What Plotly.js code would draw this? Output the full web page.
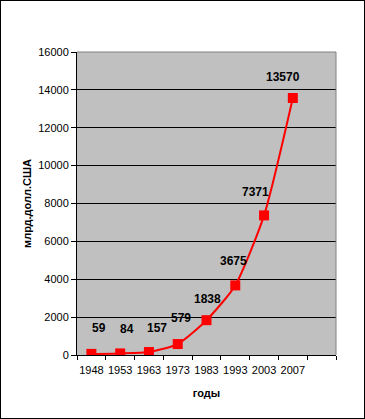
<!DOCTYPE html>
<html>
<head>
<meta charset="utf-8">
<script src="https://cdn.plot.ly/plotly-3.0.1.min.js"></script>
<style>
html,body{margin:0;padding:0;background:#fff;}
#chart{width:363px;height:417px;border:1px solid #000;}
</style>
</head>
<body>
<div id="chart"></div>
<script>
// Data
var years = ["1948", "1953", "1963", "1973", "1983", "1993", "2003", "2007"];
var values = [59, 84, 157, 579, 1838, 3675, 7371, 13570];
var yTicks = [0, 2000, 4000, 6000, 8000, 10000, 12000, 14000, 16000];

var idx = years.map(function(_, i){ return i; });
var nSlots = years.length + 1;
var bounds = [];
for (var b = 0; b <= nSlots; b++) bounds.push(b - 0.5);

// label offsets (px), styling only
var labelDx = [8, 7, 8, 3, 1, -2, -9, -10];
var labelDy = [26, 24, 24, 26, 21, 24, 23, 21];

var trace = {
  x: idx, y: values, type: 'scatter', mode: 'lines+markers',
  line: {color: '#FF0000', width: 2, shape: 'spline', smoothing: 0.6},
  marker: {symbol: 'square', size: 10, color: '#FF0000'},
  hoverinfo: 'none', xaxis: 'x', yaxis: 'y'
};
var tickTrace = {
  x: [bounds[0], bounds[bounds.length-1]], y: [0, 0], type: 'scatter', mode: 'markers',
  marker: {opacity: 0}, xaxis: 'x2', yaxis: 'y', hoverinfo: 'none', showlegend: false
};

var annotations = values.map(function(v, i){
  return {x: i, y: v, xref: 'x', yref: 'y', text: String(v), showarrow: false,
    xshift: labelDx[i], yshift: labelDy[i],
    font: {family: 'Liberation Sans, Arial, sans-serif', size: 12, color: '#000', weight: 'bold'}};
});

var layout = {
  width: 363, height: 417,
  margin: {l: 76, r: 28, t: 51, b: 63},
  paper_bgcolor: '#FFFFFF', plot_bgcolor: '#C0C0C0',
  showlegend: false,
  font: {family: 'Liberation Sans, Arial, sans-serif', size: 11, color: '#000'},
  xaxis: {
    range: [bounds[0], bounds[bounds.length-1]], tickvals: idx, ticktext: years,
    ticks: 'outside', ticklen: 5, tickcolor: 'rgba(0,0,0,0)',
    showgrid: false, zeroline: false, showline: true, linecolor: '#000', linewidth: 1,
    tickfont: {size: 11},
    title: {text: '<b>годы</b>', font: {size: 11}, standoff: 14},
    fixedrange: true
  },
  xaxis2: {
    overlaying: 'x', range: [bounds[0], bounds[bounds.length-1]], tickvals: bounds,
    showticklabels: false, ticks: 'outside', ticklen: 4, tickcolor: '#000',
    showgrid: false, zeroline: false, showline: false, fixedrange: true
  },
  yaxis: {
    range: [0, 16000], tickvals: yTicks, ticktext: yTicks.map(String),
    ticks: 'outside', ticklen: 5, tickcolor: '#000',
    showgrid: true, gridcolor: '#000', gridwidth: 1,
    zeroline: false, showline: true, linecolor: '#000', linewidth: 1,
    tickfont: {size: 11},
    title: {text: '<b>млрд.долл.США</b>', font: {size: 11}, standoff: 4},
    fixedrange: true
  },
  shapes: [
    {type: 'line', xref: 'paper', yref: 'paper', x0: 0, x1: 1, y0: 1, y1: 1, line: {color: '#808080', width: 1}},
    {type: 'line', xref: 'paper', yref: 'paper', x0: 1, x1: 1, y0: 0, y1: 1, line: {color: '#808080', width: 1}}
  ],
  annotations: annotations
};

Plotly.newPlot('chart', [trace, tickTrace], layout, {displayModeBar: false, staticPlot: true});
</script>
</body>
</html>
